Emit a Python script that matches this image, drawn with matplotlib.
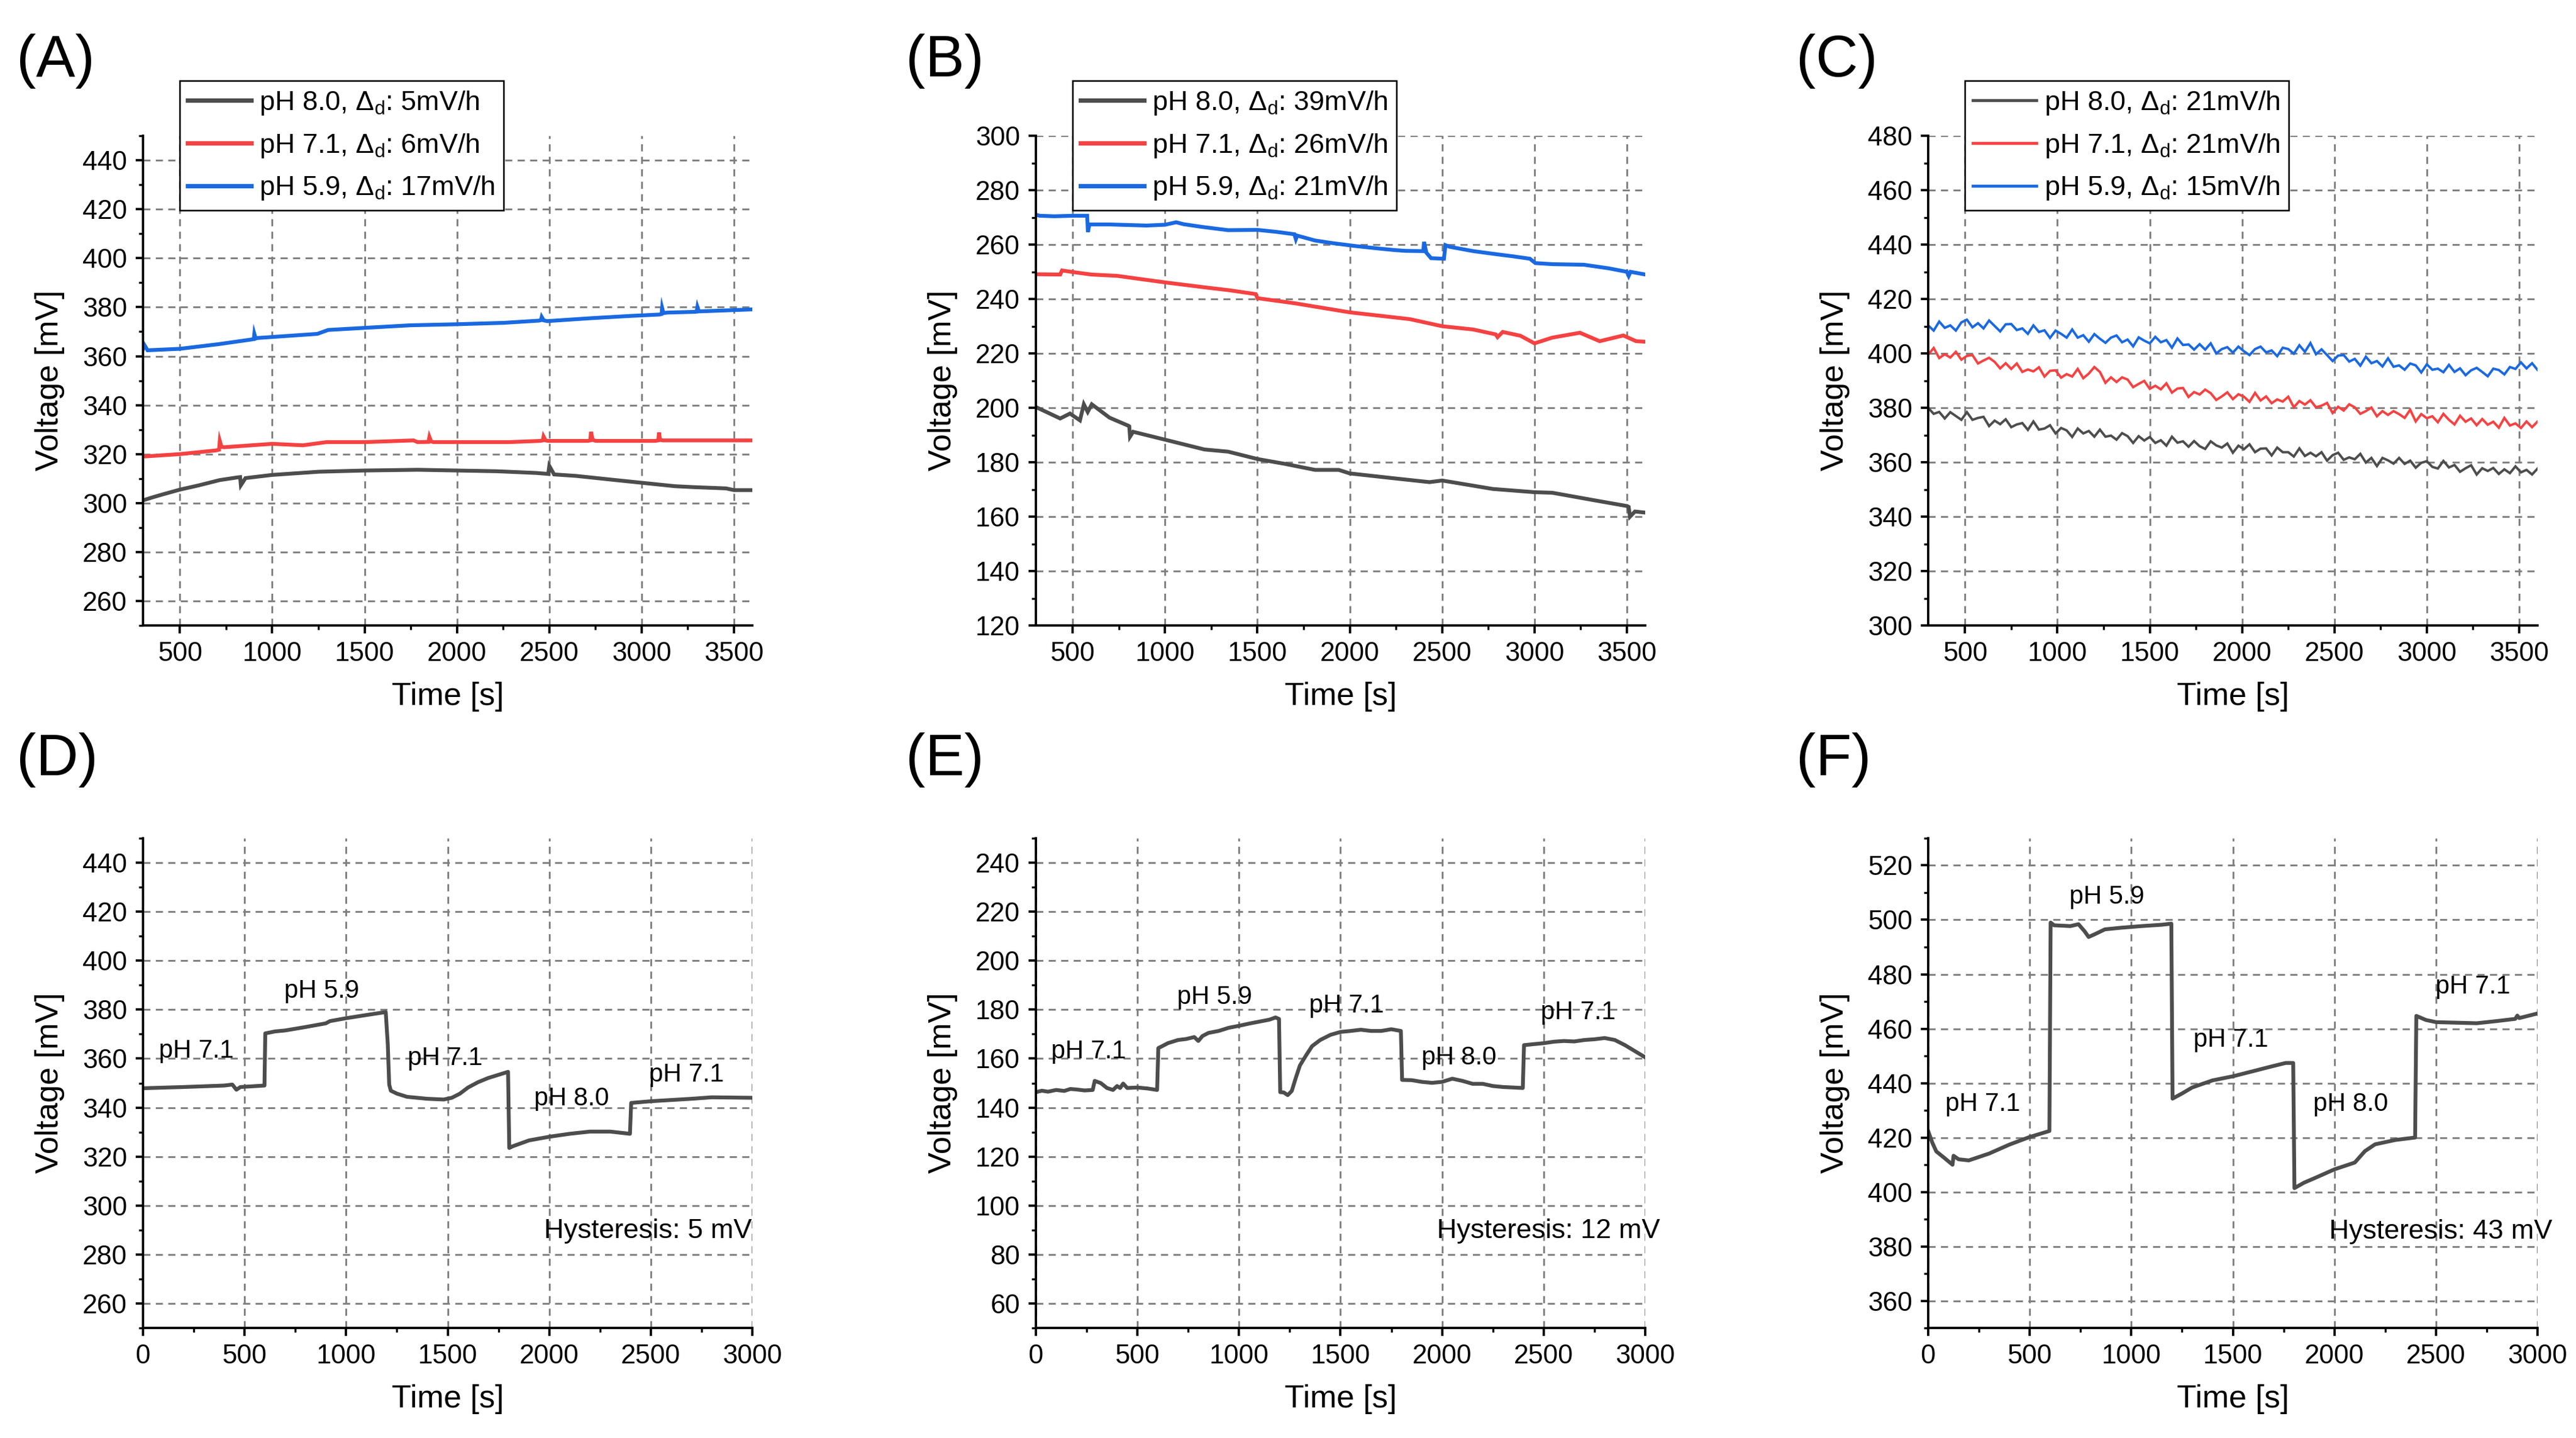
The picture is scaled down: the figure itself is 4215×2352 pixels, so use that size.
import numpy as np
import matplotlib
matplotlib.use('Agg')
import matplotlib.pyplot as plt
from matplotlib.ticker import MultipleLocator

plt.rcParams['font.family'] = ['Liberation Sans', 'DejaVu Sans']
plt.rcParams['mathtext.fontset'] = 'custom'
plt.rcParams['mathtext.rm'] = 'Liberation Sans'
plt.rcParams['mathtext.it'] = 'Liberation Sans:italic'

GREY = '#4d4d4d'
RED = '#f54242'
BLUE = '#1a69e0'

## Panel A: drift at three pH values
a_gray_t = [300, 350, 400, 500, 600, 716, 813, 826, 830, 855, 1000, 1251, 1500, 1787, 2000, 2215, 2429,
            2494, 2500, 2526, 2644, 2858, 3000, 3180, 3286, 3457, 3500, 3600]
a_gray_v = [301.1, 302.3, 303.4, 305.5, 307.2, 309.4, 310.5, 310.6, 307.3, 310.2, 311.5, 312.8, 313.3, 313.6,
            313.3, 313.0, 312.3, 311.9, 315.2, 311.7, 311.1, 309.4, 308.3, 306.9, 306.5, 306.0, 305.3, 305.3]
a_red_t = [300, 500, 695, 712, 716, 725, 738, 1000, 1166, 1294, 1500, 1765, 1787, 1846, 1851, 1860, 1873,
           2000, 2280, 2451, 2465, 2469, 2480, 2494, 2709, 2722, 2726, 2735, 2752, 3073, 3090, 3094, 3100,
           3115, 3600]
a_red_v = [319.0, 320.0, 321.5, 321.8, 325.4, 323.0, 322.8, 324.2, 323.6, 324.9, 324.9, 325.6, 324.9, 325.0,
           327.0, 325.2, 324.9, 324.9, 324.9, 325.4, 325.6, 327.2, 325.6, 325.4, 325.4, 325.6, 329.1, 325.8,
           325.4, 325.4, 325.6, 328.8, 325.8, 325.6, 325.6]
a_blue_t = [300, 305, 325, 500, 710, 888, 900, 903, 910, 918, 1244, 1303, 1511, 1748, 1985, 2252, 2444,
            2455, 2459, 2470, 2489, 2726, 2934, 3097, 3108, 3111, 3118, 3141, 3290, 3298, 3302, 3310, 3320, 3600]
a_blue_v = [363.0, 364.9, 362.4, 363.0, 364.9, 366.8, 367.0, 369.1, 367.2, 367.4, 369.1, 370.7, 371.6,
            372.6, 373.0, 373.6, 374.5, 374.7, 376.0, 374.6, 374.3, 375.5, 376.4, 377.0, 377.2, 379.7, 377.6,
            377.8, 378.1, 378.2, 380.1, 378.3, 378.3, 379.1]

## Panel B
b_gray_t = [300, 432, 485, 539, 560, 581, 603, 699, 802, 806, 810, 827, 1000, 1213, 1341, 1500, 1650, 1812,
            1940, 2000, 2240, 2432, 2500, 2774, 3000, 3096, 3310, 3502, 3510, 3517, 3544, 3600]
b_gray_v = [200.3, 196.1, 197.9, 195.4, 201.3, 198.5, 201.3, 196.4, 193.4, 193.2, 189.4, 191.2, 188.3, 184.7,
            183.9, 181.2, 179.4, 177.2, 177.2, 175.9, 174.1, 172.7, 173.3, 170.2, 169.0, 168.8, 166.2, 163.9,
            163.6, 160.0, 161.9, 161.5]
b_red_t = [300, 432, 442, 500, 600, 742, 870, 1000, 1213, 1350, 1491, 1500, 1705, 2000, 2325, 2500, 2668,
           2790, 2800, 2828, 2924, 3000, 3096, 3246, 3353, 3481, 3550, 3600]
b_red_v = [249.1, 249.0, 250.5, 249.9, 249.0, 248.5, 247.3, 246.1, 244.3, 243.2, 241.8, 240.3, 238.4, 235.1,
           232.6, 230.0, 228.8, 227.0, 226.0, 227.9, 226.5, 223.7, 225.8, 227.6, 224.5, 226.6, 224.5, 224.3]
b_blue_t = [300, 320, 400, 500, 578, 582, 590, 700, 800, 900, 1000, 1060, 1100, 1200, 1341, 1500, 1600, 1700,
            1708, 1715, 1812, 1900, 2026, 2150, 2240, 2300, 2398, 2402, 2415, 2440, 2510, 2518, 2540, 2668,
            2800, 2882, 2975, 3005, 3100, 3267, 3400, 3500, 3510, 3520, 3600]
b_blue_v = [271.0, 270.6, 270.4, 270.6, 270.6, 264.6, 267.4, 267.4, 267.2, 267.0, 267.3, 268.2, 267.5, 266.5,
            265.3, 265.4, 264.7, 263.8, 262.0, 263.3, 261.5, 260.6, 259.5, 258.6, 258.0, 257.7, 257.6, 261.0,
            257.0, 255.0, 254.8, 259.8, 259.2, 257.6, 256.4, 255.7, 254.8, 253.2, 252.8, 252.6, 251.3, 250.0,
            248.5, 250.0, 249.0]

## Panel C: sampled every 30 s from 300 s to 3600 s
c_t = np.arange(300, 3601, 30)
c_gray_v = [380.0, 377.8, 378.5, 376.1, 378.4, 377.0, 375.6, 378.4, 375.6, 376.3,
            376.7, 373.3, 375.3, 374.0, 375.8, 372.9, 373.9, 374.4, 371.9, 375.0,
            372.0, 372.4, 373.6, 370.6, 372.6, 371.7, 369.3, 372.4, 370.6, 371.5,
            369.4, 372.0, 369.4, 369.8, 368.3, 370.7, 369.6, 367.1, 369.6, 368.0,
            369.3, 367.1, 368.1, 366.1, 369.4, 367.2, 367.7, 365.7, 367.8, 365.9,
            364.9, 367.7, 366.2, 365.4, 366.9, 363.5, 366.1, 364.8, 366.6, 363.7,
            365.0, 365.1, 362.5, 365.4, 363.7, 363.7, 362.1, 365.1, 362.3, 363.5,
            362.2, 363.7, 360.6, 362.6, 363.5, 360.9, 361.8, 361.1, 363.1, 359.9,
            361.6, 358.6, 361.6, 360.7, 359.5, 361.6, 359.4, 360.6, 358.0, 359.8,
            360.4, 358.3, 357.7, 360.5, 358.1, 359.0, 356.5, 357.8, 358.9, 355.5,
            357.8, 356.8, 357.9, 355.7, 357.4, 356.0, 358.5, 356.3, 357.2, 355.5,
            357.7]
c_red_v = [399.5, 402.0, 398.3, 399.7, 398.5, 400.6, 397.7, 399.1, 399.4, 396.3,
           397.4, 398.4, 396.9, 394.5, 396.4, 394.3, 396.3, 393.2, 394.1, 393.4,
           394.9, 391.5, 393.6, 393.8, 391.1, 392.4, 391.5, 394.3, 390.9, 392.6,
           395.0, 393.2, 389.2, 391.2, 389.5, 391.2, 390.4, 387.6, 388.8, 389.9,
           387.0, 388.1, 386.8, 389.0, 385.6, 387.1, 387.3, 384.0, 385.8, 384.9,
           386.7, 385.4, 382.9, 384.2, 385.7, 383.2, 385.0, 384.1, 382.2, 385.5,
           382.7, 384.2, 381.7, 383.1, 382.3, 384.1, 380.2, 382.5, 381.2, 382.8,
           380.2, 380.8, 381.8, 378.1, 380.4, 379.0, 381.3, 380.2, 377.8, 378.8,
           380.1, 376.9, 378.8, 377.4, 378.8, 377.7, 376.3, 379.3, 375.0, 377.7,
           376.2, 376.9, 374.7, 377.8, 375.6, 373.9, 377.1, 374.9, 376.1, 373.6,
           375.9, 373.8, 374.9, 372.7, 376.3, 373.5, 374.3, 372.6, 375.0, 372.9,
           375.0]
c_blue_v = [410.3, 408.4, 411.7, 409.4, 410.3, 408.4, 411.4, 412.4, 409.6, 411.1,
            409.2, 412.1, 410.1, 408.1, 410.7, 410.8, 408.6, 409.2, 407.2, 410.3,
            407.9, 408.5, 405.7, 408.4, 407.2, 405.8, 408.8, 405.8, 406.7, 404.3,
            407.1, 405.4, 403.9, 405.8, 406.6, 404.1, 405.1, 402.6, 405.9, 404.7,
            403.7, 406.1, 404.1, 404.9, 402.1, 405.5, 403.1, 403.3, 401.4, 403.4,
            401.4, 403.7, 400.0, 401.6, 402.3, 400.3, 402.5, 400.8, 399.4, 401.6,
            402.5, 400.4, 401.1, 399.0, 402.1, 401.6, 399.9, 403.0, 400.6, 403.8,
            399.7, 401.5, 399.4, 397.2, 399.2, 399.4, 397.0, 398.0, 395.5, 398.8,
            396.4, 397.2, 395.2, 398.2, 395.1, 395.6, 394.0, 396.3, 395.6, 393.0,
            396.0, 394.0, 394.4, 393.1, 395.8, 393.2, 394.5, 392.0, 393.8, 394.7,
            393.2, 391.6, 394.4, 393.9, 392.3, 395.0, 394.3, 396.7, 394.5, 396.4,
            393.9]

## Panels D-F: pH cycling
d_t = [0, 200, 400, 440, 460, 480, 598, 602, 650, 700, 800, 900, 920, 1000, 1100, 1195, 1205, 1212, 1220,
       1250, 1300, 1400, 1480, 1520, 1560, 1600, 1650, 1700, 1797, 1803, 1820, 1900, 2000, 2100, 2200, 2300,
       2397, 2403, 2500, 2700, 2800, 3000]
d_v = [347.9, 348.4, 349.0, 349.4, 347.3, 348.4, 349.0, 370.3, 371.1, 371.5, 372.9, 374.4, 375.3, 376.5,
       377.8, 379.0, 366.0, 349.4, 346.9, 345.7, 344.4, 343.6, 343.3, 344.0, 345.7, 348.2, 350.4, 352.1,
       354.6, 323.5, 324.2, 326.6, 328.1, 329.3, 330.2, 330.2, 329.3, 341.9, 342.6, 343.6, 344.2, 344.0]
e_t = [0, 30, 60, 100, 140, 170, 200, 240, 280, 290, 320, 350, 380, 400, 415, 430, 450, 500, 550, 597, 603,
       620, 650, 700, 740, 780, 800, 820, 850, 900, 950, 1000, 1050, 1100, 1150, 1180, 1197, 1203, 1220, 1240,
       1260, 1280, 1300, 1330, 1360, 1400, 1450, 1500, 1550, 1600, 1650, 1700, 1750, 1797, 1803, 1850, 1900,
       1950, 2000, 2050, 2100, 2150, 2200, 2250, 2300, 2350, 2397, 2403, 2450, 2500, 2550, 2600, 2650, 2700,
       2750, 2800, 2850, 2900, 2950, 3000]
e_v = [146.3, 146.9, 146.5, 147.2, 146.8, 147.6, 147.4, 147.0, 147.2, 150.9, 150.0, 148.0, 147.2, 148.8,
       148.0, 149.8, 148.0, 148.2, 147.8, 147.2, 164.3, 165.0, 166.3, 167.6, 168.0, 168.8, 167.2, 169.2,
       170.5, 171.3, 172.6, 173.4, 174.3, 175.1, 175.9, 176.8, 176.2, 146.3, 146.2, 145.1, 146.8, 152.2,
       157.2, 161.3, 165.1, 167.6, 169.7, 170.9, 171.3, 171.8, 171.3, 171.3, 172.0, 171.3, 151.3, 151.2,
       150.5, 150.1, 150.5, 151.8, 150.9, 149.7, 149.7, 148.8, 148.4, 148.2, 148.0, 165.5, 165.9, 166.3,
       166.9, 167.2, 167.0, 167.6, 167.9, 168.4, 167.6, 165.5, 163.0, 160.5]
f_t = [0, 20, 40, 80, 120, 125, 150, 200, 300, 400, 500, 597, 603, 620, 700, 740, 770, 790, 820, 870, 950,
       1050, 1150, 1197, 1203, 1250, 1300, 1400, 1500, 1600, 1700, 1760, 1797, 1803, 1850, 1900, 2000, 2100,
       2150, 2200, 2300, 2397, 2403, 2450, 2500, 2600, 2700, 2800, 2890, 2900, 2910, 3000]
f_v = [422.4, 418.2, 414.9, 412.5, 410.0, 413.3, 412.0, 411.6, 414.1, 417.4, 420.2, 422.4, 499.0, 498.0,
       497.7, 498.4, 495.8, 493.7, 494.7, 496.5, 497.1, 497.7, 498.2, 498.6, 434.3, 436.2, 438.4, 441.0,
       442.5, 444.4, 446.3, 447.4, 447.4, 401.4, 403.4, 405.0, 408.3, 410.8, 415.0, 417.5, 419.1, 420.0,
       464.7, 463.2, 462.4, 462.2, 462.0, 462.8, 463.6, 464.8, 463.9, 465.6]

a_labels = ['pH 8.0, $\\Delta_\\mathrm{d}$: 5mV/h', 'pH 7.1, $\\Delta_\\mathrm{d}$: 6mV/h',
            'pH 5.9, $\\Delta_\\mathrm{d}$: 17mV/h']
b_labels = ['pH 8.0, $\\Delta_\\mathrm{d}$: 39mV/h', 'pH 7.1, $\\Delta_\\mathrm{d}$: 26mV/h',
            'pH 5.9, $\\Delta_\\mathrm{d}$: 21mV/h']
c_labels = ['pH 8.0, $\\Delta_\\mathrm{d}$: 21mV/h', 'pH 7.1, $\\Delta_\\mathrm{d}$: 21mV/h',
            'pH 5.9, $\\Delta_\\mathrm{d}$: 15mV/h']

ph_names = ['pH 7.1', 'pH 5.9', 'pH 7.1', 'pH 8.0', 'pH 7.1']
d_lab_x = [263, 880, 1487, 2109, 2675]
d_lab_y = [363.0, 387.5, 360.0, 343.6, 353.5]
e_lab_x = [260, 879, 1530, 2082, 2670]
e_lab_y = [162.9, 185.0, 181.5, 160.4, 178.9]
f_lab_x = [270, 880, 1490, 2080, 2680]
f_lab_y = [432.3, 508.4, 455.8, 432.3, 475.3]
hyst_text = ['Hysteresis: 5 mV', 'Hysteresis: 12 mV', 'Hysteresis: 43 mV']
hyst_y = [289.5, 89.5, 385.5]


def style_axes(ax, xlim, ylim):
    ax.set_xlim(*xlim)
    ax.set_ylim(*ylim)
    ax.xaxis.set_major_locator(MultipleLocator(500))
    ax.xaxis.set_minor_locator(MultipleLocator(250))
    ax.yaxis.set_major_locator(MultipleLocator(20))
    ax.yaxis.set_minor_locator(MultipleLocator(10))
    for s in ['top', 'right']:
        ax.spines[s].set_visible(False)
    for s in ['left', 'bottom']:
        ax.spines[s].set_linewidth(0.9)
    ax.tick_params(which='major', direction='out', length=3.0, width=0.9, labelsize=10.5, pad=3.2)
    ax.tick_params(which='minor', direction='out', length=1.7, width=0.8)
    ax.grid(True, which='major', color='#808080', linestyle=(0, (4, 3)), linewidth=0.7)
    ax.set_axisbelow(True)
    ax.set_xlabel('Time [s]', fontsize=12.5, labelpad=6)
    ax.set_ylabel('Voltage [mV]', fontsize=12.5, labelpad=7)


fig = plt.figure(figsize=(14.05, 7.84), dpi=300)
lefts = [0.0555, 0.4021, 0.7485]
bottoms = [0.565, 0.0765]
w, h = 0.2366, 0.3406
axs = [[fig.add_axes([l, b, w, h]) for l in lefts] for b in bottoms]

top_sets = [
    (axs[0][0], (300, 3600), (250, 450), [(a_gray_t, a_gray_v), (a_red_t, a_red_v), (a_blue_t, a_blue_v)], a_labels, 1.5),
    (axs[0][1], (300, 3600), (120, 300), [(b_gray_t, b_gray_v), (b_red_t, b_red_v), (b_blue_t, b_blue_v)], b_labels, 1.5),
    (axs[0][2], (300, 3600), (300, 480), [(c_t, c_gray_v), (c_t, c_red_v), (c_t, c_blue_v)], c_labels, 0.95),
]
for ax, xl, yl, series, labels, lw in top_sets:
    style_axes(ax, xl, yl)
    for (t, v), col, lab in zip(series, [GREY, RED, BLUE], labels):
        ax.plot(t, v, color=col, lw=lw, label=lab, solid_joinstyle='miter')
    leg = ax.legend(loc='upper left', bbox_to_anchor=(0.06, 1.112), fontsize=10.8, frameon=True,
                    fancybox=False, framealpha=1, edgecolor='black', borderpad=0.3,
                    handlelength=2.3, handletextpad=0.3, labelspacing=0.55, borderaxespad=0)
    leg.get_frame().set_linewidth(0.6)
    for line in leg.get_lines():
        line.set_linewidth(lw + 0.2)

bottom_sets = [
    (axs[1][0], (250, 450), d_t, d_v, d_lab_x, d_lab_y),
    (axs[1][1], (50, 250), e_t, e_v, e_lab_x, e_lab_y),
    (axs[1][2], (350, 530), f_t, f_v, f_lab_x, f_lab_y),
]
for i, (ax, yl, t, v, lx, ly) in enumerate(bottom_sets):
    style_axes(ax, (0, 3000), yl)
    ax.plot(t, v, color=GREY, lw=1.5)
    for name, x, y in zip(ph_names, lx, ly):
        ax.text(x, y, name, fontsize=10, ha='center', va='center')
    ax.text(1975, hyst_y[i], hyst_text[i], fontsize=10.8, ha='left', va='center')

panel_names = ['(A)', '(B)', '(C)', '(D)', '(E)', '(F)']
px = [0.0064, 0.3516, 0.6973]
py = [0.9575, 0.4715]
for k, name in enumerate(panel_names):
    fig.text(px[k % 3], py[k // 3], name, fontsize=23, ha='left', va='center')

fig.savefig('out.png', dpi=300)
